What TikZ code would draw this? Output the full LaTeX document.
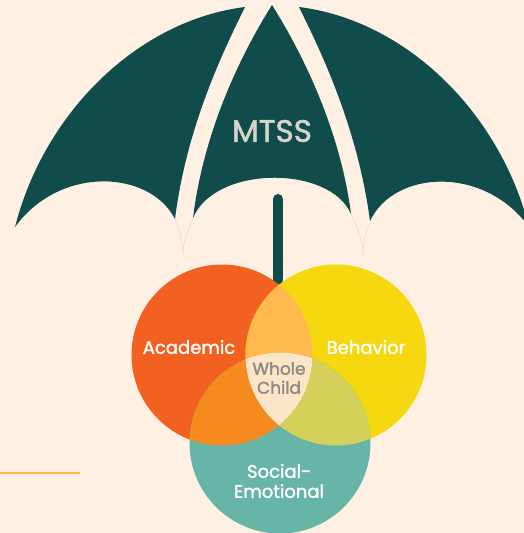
\documentclass[tikz,border=0pt]{standalone}
\usepackage{fontspec}
\setmainfont{Poppins}
\newfontfamily\labelfont{Poppins}[FakeBold=1.6]
\usetikzlibrary{calc}
\definecolor{cream}{HTML}{FEF1E4}
\definecolor{canopy}{HTML}{0F4C4B}
\definecolor{acad}{HTML}{F26122}
\definecolor{behav}{HTML}{F5D80F}
\definecolor{socem}{HTML}{67B5A6}
\definecolor{acadbehav}{HTML}{FDB94E}
\definecolor{acadsocem}{HTML}{F58A1F}
\definecolor{behavsocem}{HTML}{D4D05A}
\definecolor{whole}{HTML}{FDE5C8}
\definecolor{wholetext}{HTML}{8C8782}
\definecolor{mtsstext}{HTML}{D8D4CB}
\tikzset{
  panel/.style={fill=canopy},
  ribtip/.style={draw=cream!88!black,line width=0.4pt},
  handle/.style={draw=canopy,line width=10pt,line cap=round},
  vennlabel/.style={text=white,font=\labelfont\fontsize{18}{20}\selectfont,inner sep=0pt,align=center},
}
\begin{document}
\begin{tikzpicture}[x=1pt,y=-1pt]
\useasboundingbox (0,0) rectangle (524,533);
\fill[cream] (0,0) rectangle (524,533);
\clip (0,0) rectangle (524,533);
% canopy
\fill[panel] (15,227) .. controls (45,110) and (140,20) .. (245,7) .. controls (228,42) and (187,122) .. (175,219) .. controls (150,170) and (60,165) .. (15,227) -- cycle;
\fill[panel] (193,218) .. controls (205,120) and (250,40) .. (272,5) .. controls (294,40) and (339,120) .. (351,214) .. controls (330,165) and (215,165) .. (193,218) -- cycle;
\fill[panel] (299,7) .. controls (404,20) and (499,110) .. (529,227) .. controls (484,165) and (394,170) .. (370,221) .. controls (357,122) and (316,42) .. (299,7) -- cycle;
% rib tips
\draw[ribtip] (175,219) .. controls (180,232) and (183,242) .. (183,255);
\draw[ribtip] (193,218) .. controls (187,232) and (183,242) .. (183,255);
\draw[ribtip] (351,214) .. controls (358,230) and (363,242) .. (363,255);
\draw[ribtip] (370,221) .. controls (366,232) and (363,242) .. (363,255);
\node[text=mtsstext,font=\labelfont\fontsize{31}{33}\selectfont,inner sep=0pt] (mtss) at (272,131) {MTSS};
% handle
\draw[handle] (278,199) -- (278,280);
% venn
\coordinate (cA) at (222,355);
\coordinate (cB) at (336,355);
\coordinate (cC) at (280,443);
\def\rV{90.5}
\fill[acad] (cA) circle (\rV);
\fill[behav] (cB) circle (\rV);
\fill[socem] (cC) circle (\rV);
\begin{scope}
\clip (cB) circle (\rV);
\fill[behavsocem] (cC) circle (\rV);
\end{scope}
\begin{scope}
\clip (cA) circle (\rV);
\fill[acadbehav] (cB) circle (\rV);
\fill[acadsocem] (cC) circle (\rV);
\clip (cB) circle (\rV);
\fill[whole] (cC) circle (\rV);
\end{scope}
\node[vennlabel] (academic) at (189,347) {Academic};
\node[vennlabel] (behavior) at (366,347) {Behavior};
\node[vennlabel,text=wholetext,font=\labelfont\fontsize{17}{19}\selectfont] (wholechild) at (279,378) {Whole\\Child};
\node[vennlabel] (social) at (279,481) {Social-\\Emotional};
% accent line
\draw[acadbehav,line width=2.2pt] (0,473) -- (80,473);
\end{tikzpicture}
\end{document}
